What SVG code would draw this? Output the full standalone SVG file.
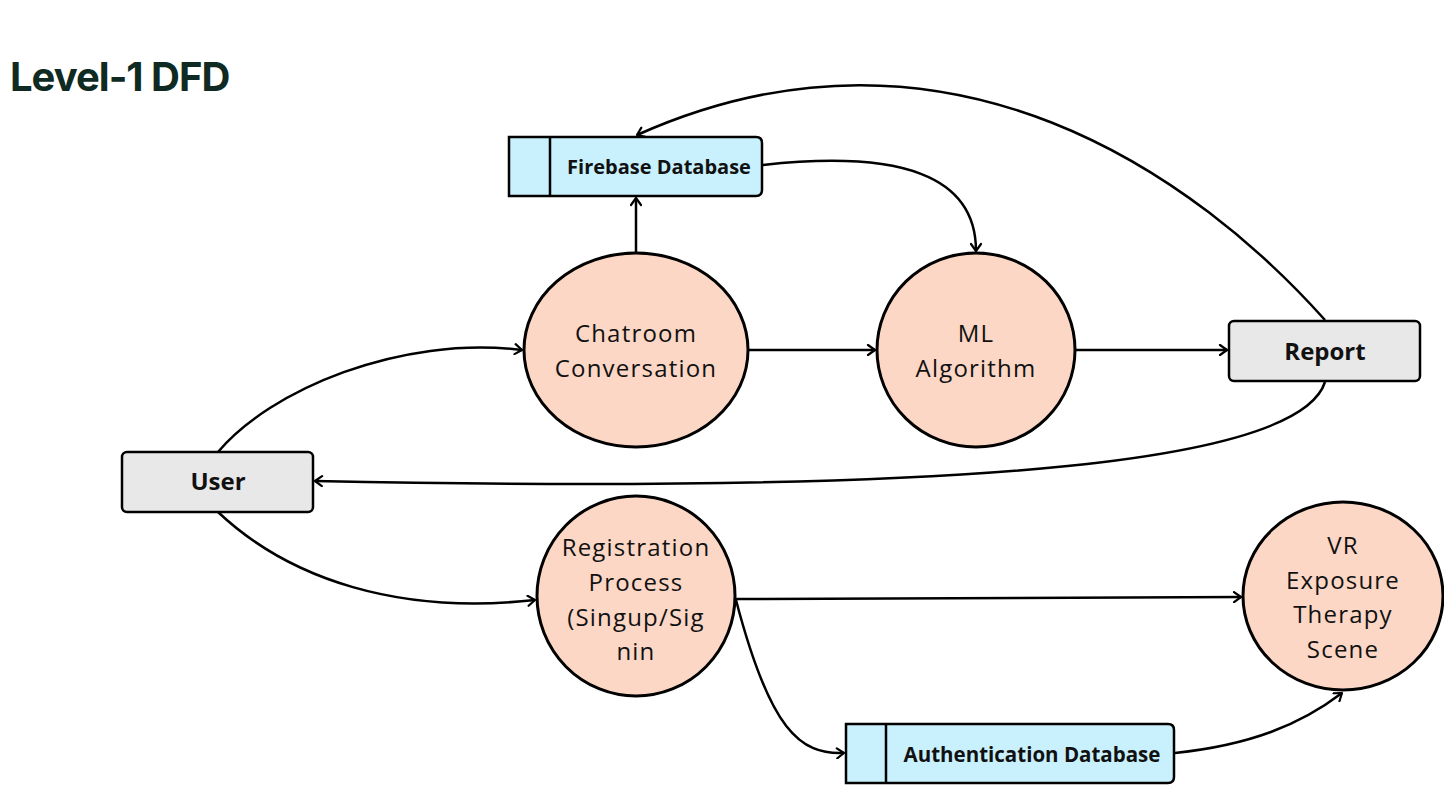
<svg xmlns="http://www.w3.org/2000/svg" width="1444" height="791" viewBox="0 0 1444 791">
<defs>
<marker id="ah" viewBox="0 0 12 12" refX="10" refY="6" markerWidth="12" markerHeight="12" markerUnits="userSpaceOnUse" orient="auto">
<polyline points="3,1 10,6 3,11" fill="none" stroke="#000" stroke-width="2.2" stroke-linecap="round" stroke-linejoin="round"/>
</marker>
<style>
.proc{fill:#fcd7c5;stroke:#000;stroke-width:3}
.ent{fill:#e8e8e8;stroke:#000;stroke-width:2.5}
.store{fill:#c8f0fd;stroke:#000;stroke-width:2.5}
.pt{font-family:"Open Sans","Noto Sans",sans-serif;font-size:24px;letter-spacing:1.2px;fill:#111;text-anchor:middle}
.bt{font-family:"Open Sans","Noto Sans",sans-serif;font-weight:bold;fill:#111;text-anchor:middle}
.c{fill:none;stroke:#000;stroke-width:2.5;marker-end:url(#ah)}
</style>
</defs>
<rect width="1444" height="791" fill="#fff"/>
<text x="10" y="91" font-family="Inter,'Liberation Sans',sans-serif" font-weight="bold" font-size="40" letter-spacing="-1" fill="#0f2a22">Level-1 DFD</text>
<g id="connectors">
<path class="c" d="M636,252 L636,198"/>
<path class="c" d="M763,165 C900,150 976,175 976,251"/>
<path class="c" d="M1325,320 C1200,180 950,-5 637,135"/>
<path class="c" d="M749,350 L875,350"/>
<path class="c" d="M1076,350 L1227,350"/>
<path class="c" d="M218,452 C270,390 400,335 522,350"/>
<path class="c" d="M1325,382 C1300,460 1000,495 315,481"/>
<path class="c" d="M218,512 C290,580 400,615 535,600"/>
<path class="c" d="M736,599 L1241,597"/>
<path class="c" d="M736,600 C770,730 800,755 844,753"/>
<path class="c" d="M1175,753 C1250,745 1300,725 1342,693"/>
</g>
<g id="firebase">
<path class="store" d="M509,137 H756 Q762,137 762,143 V190 Q762,196 756,196 H509 Z"/>
<line x1="550" y1="137" x2="550" y2="196" stroke="#000" stroke-width="2.5"/>
<text class="bt" x="659" y="174" font-size="20">Firebase Database</text>
</g>
<g id="chatroom">
<ellipse class="proc" cx="636" cy="350" rx="112" ry="97"/>
<text class="pt" x="636" y="342">Chatroom</text>
<text class="pt" x="636" y="377">Conversation</text>
</g>
<g id="ml">
<ellipse class="proc" cx="976" cy="350" rx="99" ry="97"/>
<text class="pt" x="976" y="342">ML</text>
<text class="pt" x="976" y="377">Algorithm</text>
</g>
<g id="report">
<rect class="ent" x="1229" y="321" width="191" height="60" rx="5"/>
<text class="bt" x="1325" y="360" font-size="24">Report</text>
</g>
<g id="user">
<rect class="ent" x="122" y="452" width="191" height="60" rx="5"/>
<text class="bt" x="218" y="490" font-size="24">User</text>
</g>
<g id="registration">
<ellipse class="proc" cx="636" cy="596" rx="99" ry="100"/>
<text class="pt" x="636" y="556">Registration</text>
<text class="pt" x="636" y="591">Process</text>
<text class="pt" x="636" y="626">(Singup/Sig</text>
<text class="pt" x="636" y="660">nin</text>
</g>
<g id="vr">
<ellipse class="proc" cx="1343" cy="596" rx="100" ry="94"/>
<text class="pt" x="1343" y="554">VR</text>
<text class="pt" x="1343" y="589">Exposure</text>
<text class="pt" x="1343" y="623">Therapy</text>
<text class="pt" x="1343" y="658">Scene</text>
</g>
<g id="authdb">
<path class="store" d="M846,724 H1168 Q1174,724 1174,730 V777 Q1174,783 1168,783 H846 Z"/>
<line x1="886" y1="724" x2="886" y2="783" stroke="#000" stroke-width="2.5"/>
<text class="bt" x="1032" y="762" font-size="20.5">Authentication Database</text>
</g>
</svg>
